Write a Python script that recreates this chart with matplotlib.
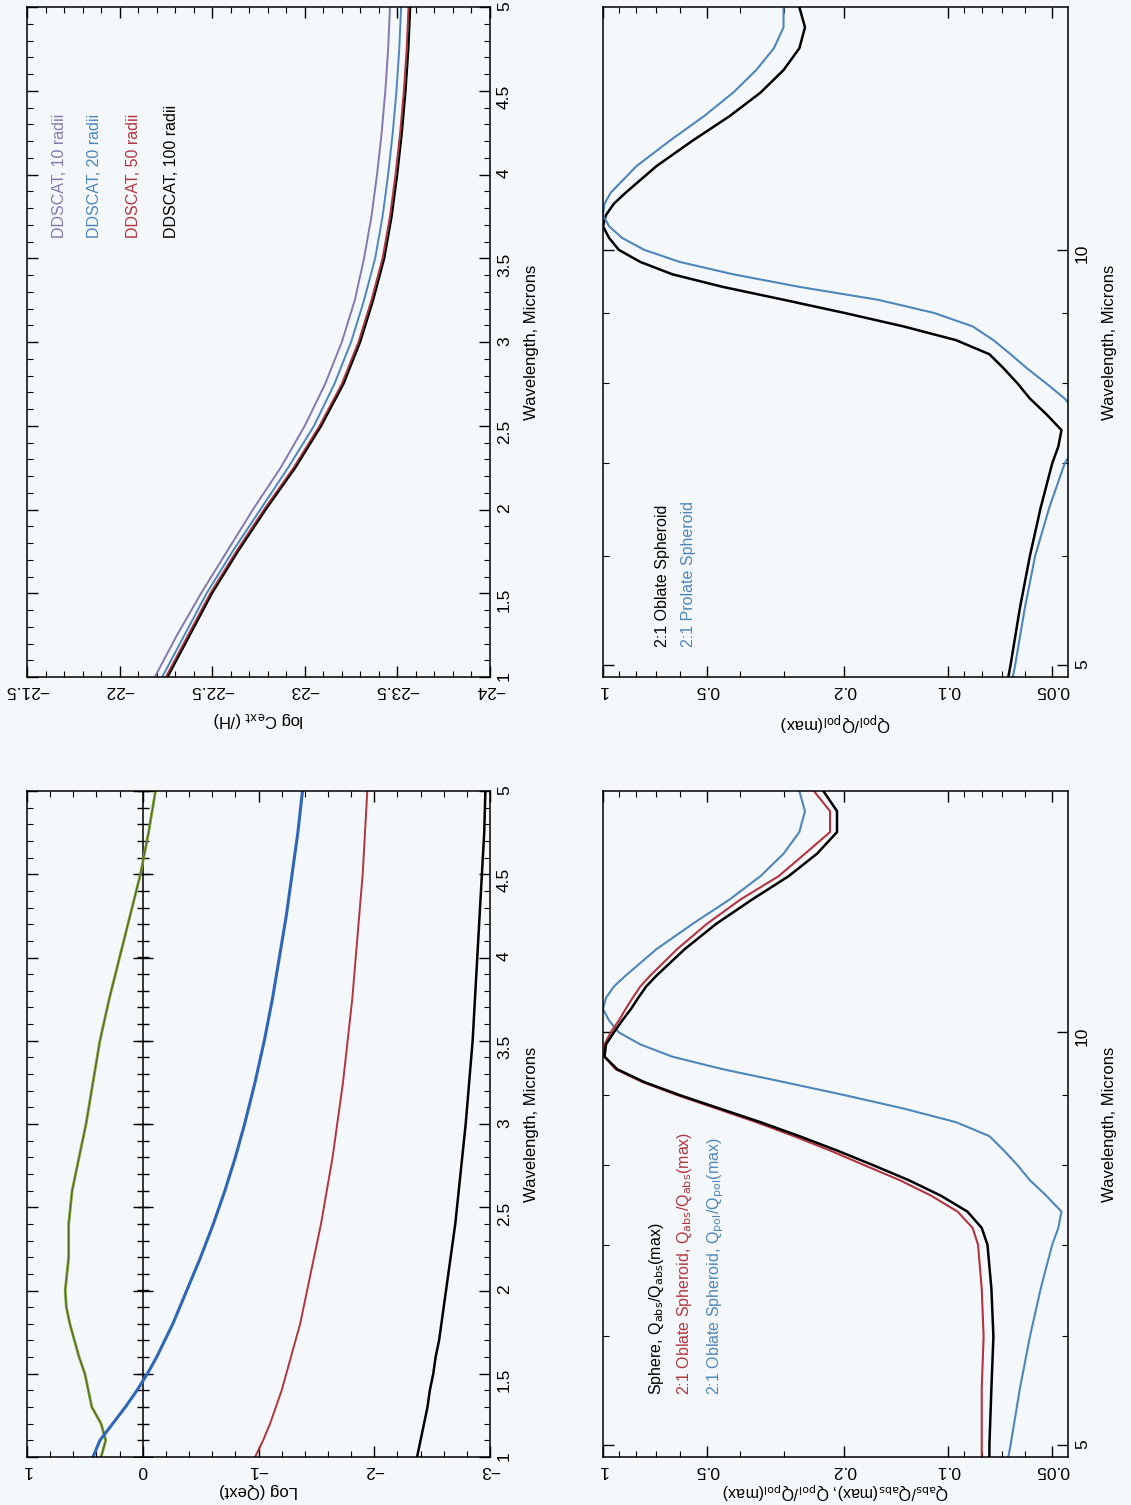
import numpy as np
import matplotlib
matplotlib.use('Agg')
import matplotlib.pyplot as plt
from matplotlib.ticker import (FixedLocator, FixedFormatter, MultipleLocator,
                               NullFormatter, FuncFormatter)

# ---------------- data ----------------
# Top-left: log C_ext (/H) vs wavelength for DDSCAT runs
wl_c = [1.0, 1.25, 1.5, 1.75, 2.0, 2.25, 2.5, 2.75, 3.0, 3.25, 3.5, 3.75,
        4.0, 4.25, 4.5, 4.75, 5.0]
cext_10 = [-22.19, -22.31, -22.44, -22.58, -22.72, -22.87, -23.00, -23.11,
           -23.20, -23.27, -23.32, -23.36, -23.39, -23.415, -23.435, -23.45, -23.46]
cext_20 = [-22.23, -22.35, -22.47, -22.61, -22.76, -22.91, -23.05, -23.16,
           -23.25, -23.32, -23.38, -23.42, -23.45, -23.475, -23.495, -23.51, -23.52]
cext_50 = [-22.25, -22.37, -22.49, -22.63, -22.78, -22.94, -23.08, -23.20,
           -23.29, -23.36, -23.42, -23.46, -23.49, -23.515, -23.535, -23.55, -23.56]
cext_100 = [-22.26, -22.38, -22.50, -22.64, -22.79, -22.95, -23.09, -23.21,
            -23.30, -23.37, -23.43, -23.47, -23.50, -23.525, -23.545, -23.56, -23.57]
legend_tl = ['DDSCAT, 10 radii', 'DDSCAT, 20 radii', 'DDSCAT, 50 radii', 'DDSCAT, 100 radii']

# Bottom-left: Log(Qext) vs wavelength
wl_q = [1.0, 1.1, 1.2, 1.3, 1.4, 1.5, 1.6, 1.7, 1.8, 1.9, 2.0, 2.2, 2.4, 2.6,
        2.8, 3.0, 3.25, 3.5, 3.75, 4.0, 4.25, 4.5, 4.75, 5.0]
q_green = [0.36, 0.32, 0.36, 0.44, 0.47, 0.50, 0.55, 0.59, 0.63, 0.66, 0.67,
           0.64, 0.64, 0.61, 0.55, 0.49, 0.43, 0.37, 0.29, 0.20, 0.11, 0.02,
           -0.05, -0.11]
q_blue = [0.43, 0.37, 0.26, 0.15, 0.05, -0.04, -0.12, -0.19, -0.26, -0.32,
          -0.38, -0.50, -0.61, -0.71, -0.80, -0.88, -0.97, -1.05, -1.12,
          -1.18, -1.24, -1.29, -1.34, -1.38]
q_red = [-0.97, -1.04, -1.10, -1.15, -1.20, -1.24, -1.28, -1.32, -1.36, -1.39,
         -1.42, -1.48, -1.54, -1.59, -1.64, -1.68, -1.73, -1.77, -1.81, -1.84,
         -1.87, -1.90, -1.92, -1.94]
q_black = [-2.37, -2.40, -2.43, -2.46, -2.48, -2.51, -2.53, -2.56, -2.58,
           -2.60, -2.62, -2.66, -2.70, -2.73, -2.76, -2.79, -2.82, -2.85,
           -2.87, -2.89, -2.91, -2.93, -2.95, -2.96]

# Right panels: normalised efficiencies vs wavelength (microns)
wl_r = [4.9, 5.0, 5.5, 6.0, 6.5, 7.0, 7.2, 7.4, 7.6, 7.8, 8.0, 8.2, 8.4, 8.6,
        8.8, 9.0, 9.2, 9.4, 9.6, 9.8, 10.0, 10.2, 10.4, 10.6, 10.8, 11.0, 11.5,
        12.0, 12.5, 13.0, 13.5, 14.0, 14.5, 15.0]
sphere_abs = [0.076, 0.076, 0.075, 0.074, 0.075, 0.077, 0.080, 0.088, 0.105,
              0.13, 0.165, 0.21, 0.27, 0.35, 0.46, 0.60, 0.76, 0.91, 0.99,
              0.98, 0.93, 0.88, 0.83, 0.79, 0.75, 0.70, 0.58, 0.47, 0.37,
              0.29, 0.24, 0.21, 0.21, 0.23]
oblate_abs = [0.080, 0.080, 0.080, 0.079, 0.080, 0.082, 0.085, 0.094, 0.112,
              0.138, 0.175, 0.22, 0.28, 0.36, 0.47, 0.61, 0.77, 0.92, 0.99,
              0.99, 0.95, 0.90, 0.86, 0.82, 0.78, 0.73, 0.61, 0.50, 0.40,
              0.31, 0.26, 0.22, 0.22, 0.245]
oblate_pol = [0.067, 0.066, 0.062, 0.058, 0.054, 0.050, 0.048, 0.047, 0.052,
              0.058, 0.063, 0.069, 0.076, 0.095, 0.135, 0.20, 0.30, 0.45,
              0.63, 0.78, 0.90, 0.96, 1.0, 0.98, 0.93, 0.86, 0.70, 0.55,
              0.43, 0.35, 0.30, 0.27, 0.26, 0.27]
prolate_pol = [0.065, 0.064, 0.060, 0.056, 0.051, 0.046, 0.043, 0.041, 0.042,
               0.046, 0.052, 0.059, 0.066, 0.074, 0.085, 0.11, 0.16, 0.27,
               0.42, 0.60, 0.76, 0.88, 0.96, 1.0, 0.99, 0.95, 0.80, 0.64,
               0.51, 0.42, 0.36, 0.32, 0.30, 0.30]

norm_ticks = [1, 0.5, 0.2, 0.1, 0.05]
norm_labels = ['1', '0.5', '0.2', '0.1', '0.05']
norm_minor = [0.9, 0.8, 0.7, 0.6, 0.4, 0.3, 0.09, 0.08, 0.07, 0.06]
wl_log_ticks = [5, 10]
wl_log_labels = ['5', '10']
wl_log_minor = [6, 7, 8, 9]

# ---------------- style ----------------
BG = '#f5f8fa'
PURPLE = '#8378b0'
STEEL = '#4d86bd'
RED = '#b3343f'
BLUE = '#2f66b8'
GREEN = '#7f9f3a'
FONT = ['Liberation Sans Narrow', 'Liberation Sans', 'DejaVu Sans']

plt.rcParams['font.family'] = FONT
plt.rcParams['mathtext.fontset'] = 'custom'
plt.rcParams['mathtext.rm'] = 'Liberation Sans Narrow'
plt.rcParams['mathtext.it'] = 'Liberation Sans Narrow'
plt.rcParams['axes.linewidth'] = 1.1
plt.rcParams['axes.unicode_minus'] = True

W, H = 1131, 1505
fig = plt.figure(figsize=(W / 100, H / 100), dpi=100, facecolor=BG)


def px_axes(x0, y0, x1, y1):
    ax = fig.add_axes([x0 / W, 1 - y1 / H, (x1 - x0) / W, (y1 - y0) / H])
    ax.set_facecolor(BG)
    return ax


def num(v, p=None):
    return ('%g' % v).replace('-', '\u2212')


def style(ax, xlabel, xpad, xsize=12):
    ax.tick_params(axis='both', which='both', direction='in', top=True,
                   bottom=True, left=True, right=True, labelleft=False,
                   labelright=True, labelbottom=True, labeltop=False,
                   labelsize=12.5)
    ax.tick_params(which='major', length=8, width=1.0)
    ax.tick_params(which='minor', length=4, width=0.8)
    ax.tick_params(axis='x', labelrotation=180, pad=4)
    ax.tick_params(axis='y', labelrotation=90, pad=5)
    ax.set_xlabel(xlabel, rotation=180, fontsize=xsize, labelpad=xpad)
    ax.yaxis.set_label_position('right')
    ax.set_ylabel('Wavelength, Microns', rotation=90, fontsize=12, labelpad=9)


def linear_wl(ax):
    ax.set_ylim(1, 5)
    ax.yaxis.set_major_locator(MultipleLocator(0.5))
    ax.yaxis.set_minor_locator(MultipleLocator(0.1))
    ax.yaxis.set_major_formatter(FuncFormatter(num))


def log_axes(ax):
    ax.set_xscale('log')
    ax.set_yscale('log')
    ax.set_xlim(1, 0.045)
    ax.set_ylim(4.9, 15)
    ax.xaxis.set_major_locator(FixedLocator(norm_ticks))
    ax.xaxis.set_major_formatter(FixedFormatter(norm_labels))
    ax.xaxis.set_minor_locator(FixedLocator(norm_minor))
    ax.xaxis.set_minor_formatter(NullFormatter())
    ax.yaxis.set_major_locator(FixedLocator(wl_log_ticks))
    ax.yaxis.set_major_formatter(FixedFormatter(wl_log_labels))
    ax.yaxis.set_minor_locator(FixedLocator(wl_log_minor))
    ax.yaxis.set_minor_formatter(NullFormatter())


def label(x, y, s, color):
    fig.text(x / W, 1 - y / H, s, rotation=90, ha='center', va='bottom',
             color=color, fontsize=11.5)


# ---- top-left: log C_ext ----
ax1 = px_axes(27, 7, 490, 677)
for vals, col in [(cext_10, PURPLE), (cext_20, STEEL), (cext_50, RED),
                  (cext_100, 'black')]:
    ax1.plot(vals, wl_c, color=col, lw=1.4)
ax1.set_xlim(-21.5, -24)
ax1.xaxis.set_major_locator(MultipleLocator(0.5))
ax1.xaxis.set_minor_locator(MultipleLocator(0.1))
ax1.xaxis.set_major_formatter(FuncFormatter(num))
linear_wl(ax1)
style(ax1, r'log C$_{\rm ext}$ (/H)', 9)
for xx, s, col in zip([59, 95, 133, 171], legend_tl,
                      [PURPLE, STEEL, RED, 'black']):
    label(xx, 238, s, col)

# ---- bottom-left: Log(Qext) ----
ax3 = px_axes(27, 791, 490, 1457)
ax3.axvline(0, color='black', lw=1.1)
wl_minor = np.arange(1.0, 5.001, 0.1)
wl_major = np.arange(1.0, 5.001, 0.5)
ax3.plot(np.zeros_like(wl_minor), wl_minor, ls='none', marker='_', ms=8,
         mew=1.0, color='black')
ax3.plot(np.zeros_like(wl_major), wl_major, ls='none', marker='_', ms=14,
         mew=1.0, color='black')
ax3.plot(q_green, wl_q, color=GREEN, lw=2.0)
ax3.plot(q_green, wl_q, color='#4a5a25', lw=0.6)
ax3.plot(q_blue, wl_q, color=BLUE, lw=2.2)
ax3.plot(q_red, wl_q, color=RED, lw=1.4)
ax3.plot(q_black, wl_q, color='black', lw=1.8)
ax3.set_xlim(1, -3)
ax3.xaxis.set_major_locator(MultipleLocator(1))
ax3.xaxis.set_minor_locator(MultipleLocator(0.2))
ax3.xaxis.set_major_formatter(FuncFormatter(num))
linear_wl(ax3)
style(ax3, 'Log (Qext)', 4)

# ---- top-right: Q_pol/Q_pol(max) ----
ax2 = px_axes(603, 7, 1068, 677)
ax2.plot(oblate_pol, wl_r, color='black', lw=1.8)
ax2.plot(prolate_pol, wl_r, color=STEEL, lw=1.5)
log_axes(ax2)
style(ax2, r'Q$_{\rm pol}$/Q$_{\rm pol}$(max)', 9)
label(662, 647, '2:1 Oblate Spheroid', 'black')
label(689, 647, '2:1 Prolate Spheroid', STEEL)

# ---- bottom-right: normalised Q_abs and Q_pol ----
ax4 = px_axes(603, 791, 1068, 1457)
ax4.plot(oblate_pol, wl_r, color=STEEL, lw=1.5)
ax4.plot(oblate_abs, wl_r, color=RED, lw=1.5)
ax4.plot(sphere_abs, wl_r, color='black', lw=1.8)
log_axes(ax4)
style(ax4, r'Q$_{\rm abs}$/Q$_{\rm abs}$(max), Q$_{\rm pol}$/Q$_{\rm pol}$(max)', 2, 11.5)
label(657, 1395, r'Sphere, Q$_{\rm abs}$/Q$_{\rm abs}$(max)', 'black')
label(685, 1395, r'2:1 Oblate Spheroid, Q$_{\rm abs}$/Q$_{\rm abs}$(max)', RED)
label(716, 1395, r'2:1 Oblate Spheroid, Q$_{\rm pol}$/Q$_{\rm pol}$(max)', STEEL)

fig.savefig('out.png', dpi=100, facecolor=BG)
